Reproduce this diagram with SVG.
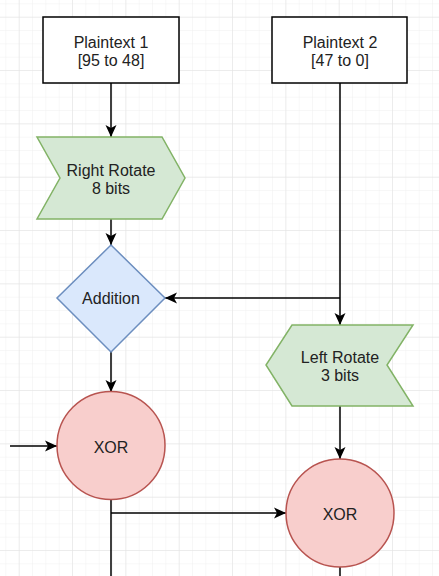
<svg xmlns="http://www.w3.org/2000/svg" width="439" height="576" viewBox="0 0 439 576">
<style>
text{font-family:"Liberation Sans",Arial,sans-serif;font-size:16px;fill:#222;text-anchor:middle}
.c{fill:none;stroke:#000;stroke-width:1.5}
</style>
<defs>
<pattern id="minor" x="18.7" y="16.7" width="13.333" height="13.333" patternUnits="userSpaceOnUse">
<path d="M0 0H13.333M0 0V13.333" fill="none" stroke="#f0f0f0" stroke-width="1"/>
</pattern>
<pattern id="major" x="18.7" y="16.7" width="53.333" height="53.333" patternUnits="userSpaceOnUse">
<path d="M0 0H53.333M0 0V53.333" fill="none" stroke="#e2e2e2" stroke-width="1"/>
</pattern>
<marker id="arr" viewBox="-12 -6 12 12" refX="0" refY="0" markerWidth="12" markerHeight="12" markerUnits="userSpaceOnUse" orient="auto" overflow="visible">
<path d="M0 0L-12 -5.5L-9 0L-12 5.5Z" fill="#000"/>
</marker>
</defs>
<rect width="439" height="576" fill="#fff"/>
<rect width="439" height="576" fill="url(#minor)"/>
<rect width="439" height="576" fill="url(#major)"/>
<g id="connectors">
<path class="c" d="M111 83V137" marker-end="url(#arr)"/>
<path class="c" d="M111 219V245" marker-end="url(#arr)"/>
<path class="c" d="M111 352V392" marker-end="url(#arr)"/>
<path class="c" d="M10 446H57" marker-end="url(#arr)"/>
<path class="c" d="M111 499V576"/>
<path class="c" d="M111 513H286" marker-end="url(#arr)"/>
<path class="c" d="M340 83V325" marker-end="url(#arr)"/>
<path class="c" d="M340 298H165" marker-end="url(#arr)"/>
<path class="c" d="M340 406V459" marker-end="url(#arr)"/>
<path class="c" d="M340 567V576"/>
</g>
<g id="plaintext1">
<rect x="43" y="17" width="136" height="66" fill="#fff" stroke="#000" stroke-width="1.5"/>
<text x="111" y="48">Plaintext 1</text>
<text x="111" y="66">[95 to 48]</text>
</g>
<g id="plaintext2">
<rect x="272" y="17" width="135" height="66" fill="#fff" stroke="#000" stroke-width="1.5"/>
<text x="340" y="48">Plaintext 2</text>
<text x="340" y="66">[47 to 0]</text>
</g>
<g id="rightRotate">
<path d="M37 137H162L185 178L162 219H37L60 178Z" fill="#d5e8d4" stroke="#82b366" stroke-width="1.5"/>
<text x="111" y="176">Right Rotate</text>
<text x="111" y="194">8 bits</text>
</g>
<g id="addition">
<path d="M111 245L165 298L111 352L57 298Z" fill="#dae8fc" stroke="#6c8ebf" stroke-width="1.5"/>
<text x="111" y="304">Addition</text>
</g>
<g id="leftRotate">
<path d="M292 325H413L387 365L413 406H292L266 365Z" fill="#d5e8d4" stroke="#82b366" stroke-width="1.5"/>
<text x="340" y="363">Left Rotate</text>
<text x="340" y="381">3 bits</text>
</g>
<g id="xor1">
<circle cx="111" cy="445.5" r="54" fill="#f8cecc" stroke="#b85450" stroke-width="1.5"/>
<text x="111" y="453">XOR</text>
</g>
<g id="xor2">
<circle cx="340" cy="513" r="54" fill="#f8cecc" stroke="#b85450" stroke-width="1.5"/>
<text x="340" y="520">XOR</text>
</g>
</svg>
